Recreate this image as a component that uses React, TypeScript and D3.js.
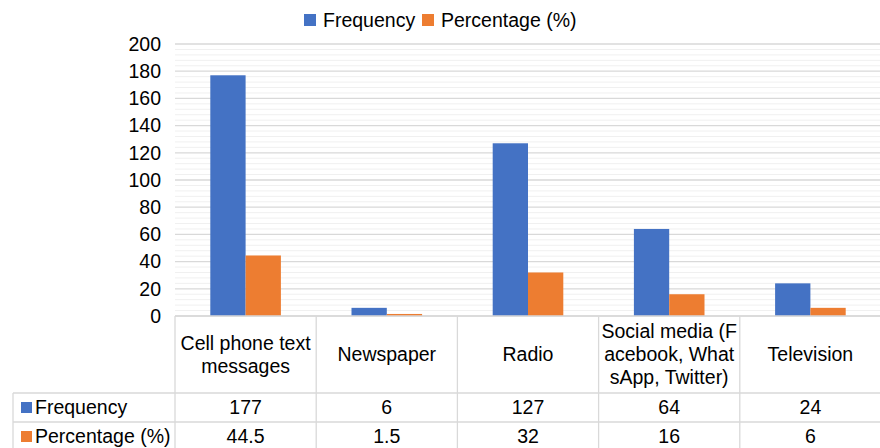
import React from 'react';
import * as d3 from 'd3';

const categories = [
  ['Cell phone text', 'messages'],
  ['Newspaper'],
  ['Radio'],
  ['Social media (F', 'acebook, What', 'sApp, Twitter)'],
  ['Television'],
];
const frequency = [177, 6, 127, 64, 24];
const percentage = [44.5, 1.5, 32, 16, 6];
const seriesNames = ['Frequency', 'Percentage (%)'];
const colors = ['#4472C4', '#ED7D31'];
const freqLabels = ['177', '6', '127', '64', '24'];
const pctLabels = ['44.5', '1.5', '32', '16', '6'];

const W = 880, H = 448;
const left = 175, right = 881, top = 44, bottom = 316;
const font = '"Liberation Sans", Arial, sans-serif';
const fs = 19.5;

export default function App() {
  const x = d3.scaleBand<number>().domain(d3.range(categories.length)).range([left, right]);
  const y = d3.scaleLinear().domain([0, 200]).range([bottom, top]);
  const inner = d3.scaleBand<number>().domain([0, 1]).range([0, x.bandwidth()]).paddingOuter(1);
  const major = y.ticks(10);
  const minor = d3.range(0, 201, 4).filter(v => v % 20 !== 0);
  const series = [frequency, percentage];
  const rowLabels = [freqLabels, pctLabels];

  const catRowBottom = 393;
  const rowH = 29;
  const lineC = '#d9d9d9';

  return (
    <svg width={W} height={H} style={{ position: 'absolute', left: 0, top: 0 }} fontFamily={font}>
      <rect width={W} height={H} fill="#fff" />
      {/* legend */}
      {seriesNames.map((s, i) => {
        const lx = i === 0 ? 304 : 422;
        return (
          <g key={s}>
            <rect x={lx} y={14} width={12} height={12} fill={colors[i]} />
            <text x={lx + 19} y={20} dy="0.35em" fontSize={fs} fill="#000">{s}</text>
          </g>
        );
      })}
      {/* gridlines */}
      {minor.map(v => (
        <line key={'m' + v} x1={left} x2={right} y1={y(v)} y2={y(v)} stroke="#f0f0f0" strokeWidth={1} />
      ))}
      {major.map(v => (
        <line key={'M' + v} x1={left} x2={right} y1={y(v)} y2={y(v)} stroke={lineC} strokeWidth={1.3} />
      ))}
      {major.map(v => (
        <text key={'t' + v} x={161} y={y(v)} dy="0.35em" textAnchor="end" fontSize={fs} fill="#000">{v}</text>
      ))}
      {/* bars */}
      {series.map((vals, si) =>
        vals.map((v, ci) => (
          <rect key={si + '-' + ci}
            x={(x(ci) as number) + (inner(si) as number)}
            y={y(v)} width={inner.bandwidth()} height={y(0) - y(v)} fill={colors[si]} />
        ))
      )}
      {/* data table */}
      <line x1={left} x2={right} y1={bottom} y2={bottom} stroke={lineC} strokeWidth={1.3} />
      <line x1={13} x2={right} y1={catRowBottom} y2={catRowBottom} stroke={lineC} strokeWidth={1.3} />
      <line x1={13} x2={right} y1={catRowBottom + rowH} y2={catRowBottom + rowH} stroke={lineC} strokeWidth={1.3} />
      <line x1={13} x2={right} y1={catRowBottom + 2 * rowH} y2={catRowBottom + 2 * rowH} stroke={lineC} strokeWidth={1.3} />
      <line x1={13} x2={13} y1={catRowBottom} y2={H} stroke={lineC} strokeWidth={1.3} />
      {categories.map((_, ci) => (
        <line key={'v' + ci} x1={x(ci)} x2={x(ci)} y1={bottom} y2={H} stroke={lineC} strokeWidth={1.3} />
      ))}
      {categories.map((lines, ci) => {
        const cx = (x(ci) as number) + x.bandwidth() / 2;
        const mid = (bottom + catRowBottom) / 2;
        const lh = 23;
        return (
          <text key={'c' + ci} textAnchor="middle" fontSize={fs} fill="#000">
            {lines.map((l, li) => (
              <tspan key={li} x={cx} y={mid + (li - (lines.length - 1) / 2) * lh} dy="0.35em">{l}</tspan>
            ))}
          </text>
        );
      })}
      {seriesNames.map((s, si) => {
        const cy = catRowBottom + rowH * si + rowH / 2;
        return (
          <g key={'r' + s}>
            <rect x={21} y={cy - 5.5} width={11} height={11} fill={colors[si]} />
            <text x={35} y={cy} dy="0.35em" fontSize={fs} fill="#000">{s}</text>
            {rowLabels[si].map((t, ci) => (
              <text key={ci} x={(x(ci) as number) + x.bandwidth() / 2} y={cy} dy="0.35em"
                textAnchor="middle" fontSize={fs} fill="#000">{t}</text>
            ))}
          </g>
        );
      })}
    </svg>
  );
}
